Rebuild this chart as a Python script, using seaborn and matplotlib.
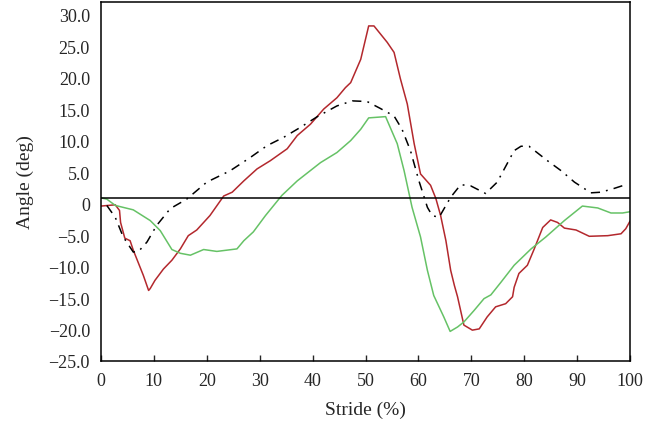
import numpy as np
import pandas as pd
import matplotlib
matplotlib.use('Agg')
import matplotlib.pyplot as plt
import seaborn as sns

# values (stride %, angle deg)
red_x = [0, 2.7, 3.5, 3.7, 4.5, 5.5, 6.1, 8, 9, 9.3, 10.2, 11.8, 13.4, 15, 16.5, 18.1, 20.6,
         23.2, 24.8, 27, 29.5, 32, 35.2, 37.1, 39.6, 42.1, 44.6, 46.2, 47.2, 49.1, 50.6, 51.6,
         54.1, 55.4, 56.6, 57.9, 59.2, 60.4, 62.3, 63.3, 64.2, 65.2, 66.1, 66.8, 67.4, 68.6,
         70.2, 71.5, 73.0, 74.6, 76.5, 77.8, 78.1, 79, 80.6, 81.9, 83.5, 85, 86.3, 87.6, 89.8,
         92.3, 95.8, 98.3, 99.2, 100]
red_y = [-0.4, -0.2, -1.1, -3.0, -5.5, -5.9, -7.4, -11.4, -13.8, -13.5, -12.2, -10.4, -9.0,
         -7.2, -5.1, -4.2, -1.9, 1.2, 1.8, 3.6, 5.5, 6.8, 8.7, 10.8, 12.6, 15.0, 16.8, 18.4,
         19.2, 22.9, 28.2, 28.2, 25.6, 24.0, 19.8, 15.8, 9.5, 4.7, 2.9, 0.8, -1.9, -5.9, -10.6,
         -13.0, -14.8, -19.3, -20.1, -19.9, -18.0, -16.4, -15.9, -14.8, -13.3, -11.1, -9.8,
         -7.2, -3.8, -2.6, -3.0, -3.9, -4.2, -5.2, -5.1, -4.8, -4.0, -2.8]

green_x = [0, 1.1, 2.7, 6.1, 9.3, 11.2, 13.4, 15, 16.9, 19.4, 21.9, 23.8, 25.7, 27, 28.8, 31.1,
           34.2, 37.1, 41.5, 44.6, 47.2, 49.1, 50.6, 53.8, 54.1, 56, 57.3, 58.8, 60.4, 61.7,
           62.9, 64.8, 66, 67.4, 68.6, 70.5, 72.4, 73.7, 75.6, 78.1, 81.3, 84.1, 87.6, 91,
           93.9, 96.4, 98.6, 100]
green_y = [0.9, 0.7, -0.3, -1.0, -2.7, -4.3, -7.3, -7.9, -8.2, -7.3, -7.6, -7.4, -7.2, -5.9,
           -4.5, -1.9, 1.3, 3.6, 6.5, 8.1, 10.0, 11.8, 13.6, 13.8, 13.2, 9.5, 5.2, -0.6, -5.3,
           -10.6, -14.6, -18.0, -20.3, -19.6, -18.8, -17.0, -15.1, -14.5, -12.5, -9.8, -7.2,
           -5.3, -2.7, -0.4, -0.7, -1.5, -1.5, -1.3]

black_x = [1.1, 2.7, 4.2, 6.1, 7.1, 8.7, 10.5, 13.1, 16.2, 20, 24.4, 28.2, 31.4, 34.5, 37.7,
           40.9, 44.6, 47.5, 50.3, 52.8, 55.4, 56.9, 58.5, 60.1, 61.7, 62.6, 63.9, 66.1, 68,
           69.9, 72.7, 74.9, 78.1, 79.4, 80.9, 84.4, 87, 89.5, 92.6, 94.5, 97, 99.2]
black_y = [-0.3, -2.2, -5.3, -7.7, -7.6, -6.1, -3.5, -0.8, 0.7, 3.4, 5.2, 7.3, 9.2, 10.5,
           12.1, 13.8, 15.5, 16.3, 16.2, 15.1, 13.9, 11.8, 8.4, 3.6, -0.6, -1.9, -2.2, 1.0,
           3.0, 2.8, 1.6, 3.4, 8.4, 9.1, 9.1, 6.8, 5.2, 3.4, 1.7, 1.8, 2.4, 3.0]

ref_level = 0.9

x_ticks = [0, 10, 20, 30, 40, 50, 60, 70, 80, 90, 100]
y_ticks = [30, 25, 20, 15, 10, 5, 0, -5, -10, -15, -20, -25]
y_labels = ['30.0', '25.0', '20.0', '15.0', '10.0', '5.0', '0', '\u22125.0', '\u221210.0',
            '\u221215.0', '\u221220.0', '\u221225.0']

sns.set_style('white')
plt.rcParams['font.family'] = ['Liberation Serif', 'DejaVu Serif']

fig = plt.figure(figsize=(6.59, 4.27), dpi=100)
ax = fig.add_axes([101 / 659, 65 / 427, 529 / 659, 359 / 427])

sns.lineplot(x=red_x, y=red_y, color='#b3282d', linewidth=1.1, ax=ax)
sns.lineplot(x=green_x, y=green_y, color='#66c266', linewidth=1.1, ax=ax)
sns.lineplot(x=black_x, y=black_y, color='black', linewidth=1.1, ax=ax,
             dashes=False).lines[-1].set_dashes((6, 4, 1.2, 4))
ax.axhline(ref_level, color='black', linewidth=1.1)

ax.set_xlim(0, 100)
ax.set_ylim(-25, 32)
ax.set_xticks(x_ticks)
ax.set_yticks(y_ticks)
ax.set_yticklabels(y_labels)
ax.tick_params(axis='x', direction='in', length=4, width=1, labelsize=13, pad=8, bottom=True)
ax.tick_params(axis='y', length=0, labelsize=13, pad=8)
for s in ax.spines.values():
    s.set_color('black')
    s.set_linewidth(1.1)

ax.set_xlabel('Stride (%)', fontsize=14, labelpad=8)
ax.set_ylabel('Angle (deg)', fontsize=14, labelpad=10)

fig.savefig('out.png', dpi=100)
